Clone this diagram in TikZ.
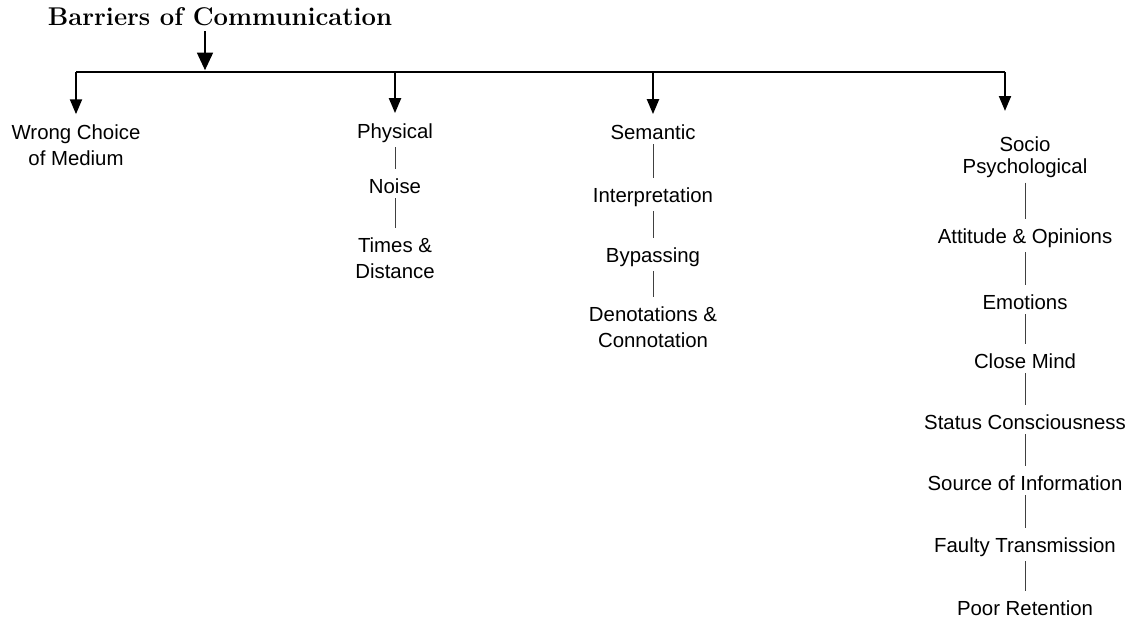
\documentclass[tikz,border=0pt]{standalone}
\usepackage{fontspec}
\newfontfamily\arialfont{Liberation Sans}
\usetikzlibrary{arrows.meta}
\begin{document}
\begin{tikzpicture}
[
 x=0.02cm, y=-0.02cm,
 T/.style={font=\fontsize{14.6}{17}\selectfont\bfseries, inner sep=1mm},
 B/.style={font=\arialfont\fontsize{11.6}{14.7}\selectfont, align=center, inner sep=0.6mm},
 A/.style={line width=1.2pt, -{Triangle[width=6.8pt,length=8.5pt]}},
 AT/.style={line width=1.2pt, -{Triangle[width=9pt,length=10pt]}},
 L/.style={draw=black!75, line width=.5pt, shorten <=0.3mm, shorten >=1.2mm},
 ]
 %
\useasboundingbox (0,0) rectangle (1144,624);
%
\node [T] (ttl) at (220, 17) {Barriers of Communication};
\coordinate (tp) at (205, 72);
\coordinate (b1) at (76, 72);
\coordinate (b2) at (395, 72);
\coordinate (b3) at (653, 72);
\coordinate (b4) at (1005, 72);
%
\node [B] (wcm) at (76, 145) {Wrong Choice\\of Medium};
%
\node [B] (phy) at (395, 133) {Physical};
\node [B] (noi) at (395, 186) {Noise};
\node [B] (tim) at (395, 258) {Times \&\\Distance};
%
\node [B] (sem) at (653, 132) {Semantic};
\node [B] (int) at (653, 197) {Interpretation};
\node [B] (byp) at (653, 257) {Bypassing};
\node [B] (den) at (653, 327) {Denotations \&\\Connotation};
%
\node [B, font=\arialfont\fontsize{11.6}{12.8}\selectfont] (soc) at (1025, 157) {Socio\\Psychological};
\node [B] (att) at (1025, 238) {Attitude \& Opinions};
\node [B] (emo) at (1025, 302) {Emotions};
\node [B] (clo) at (1025, 361) {Close Mind};
\node [B] (sta) at (1025, 422) {Status Consciousness};
\node [B] (sou) at (1025, 483) {Source of Information};
\node [B] (fau) at (1025, 547) {Faulty Transmission};
\node [B] (poo) at (1025, 608) {Poor Retention};
%
\draw [AT, shorten >=1pt] (ttl.south -| tp) -- (tp);
\draw [line width=1.2pt] (b1) -- (b4);
\draw [A, shorten >=4pt] (b1) -- (wcm);
\draw [A, shorten >=4pt] (b2) -- (phy);
\draw [A, shorten >=4pt] (b3) -- (sem);
\draw [A, shorten >=12.5pt] (b4) -- (b4 |- soc.north);
%
\draw [L] (phy) -- (noi);
\draw [L] (noi) -- (tim);
%
\draw [L] (sem) -- (int);
\draw [L] (int) -- (byp);
\draw [L] (byp) -- (den);
%
\draw [L] (soc) -- (att);
\draw [L] (att) -- (emo);
\draw [L] (emo) -- (clo);
\draw [L] (clo) -- (sta);
\draw [L] (sta) -- (sou);
\draw [L] (sou) -- (fau);
\draw [L] (fau) -- (poo);
%
\end{tikzpicture}
\end{document}
